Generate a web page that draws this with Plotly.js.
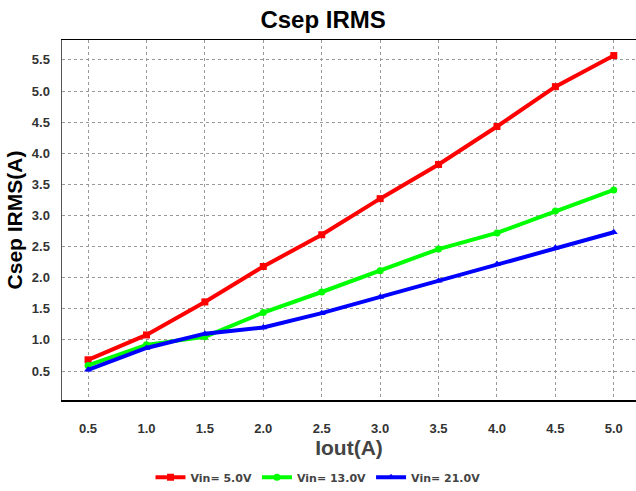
<!DOCTYPE html>
<html>
<head>
<meta charset="utf-8">
<script src="https://cdn.plot.ly/plotly-3.0.1.min.js"></script>
<style>html,body{margin:0;padding:0;background:#fff;}#chart{width:636px;height:491px;}</style>
</head>
<body>
<div id="chart"></div>
<script>
var iout = [0.5, 1.0, 1.5, 2.0, 2.5, 3.0, 3.5, 4.0, 4.5, 5.0];
var vin5 = [0.68, 1.08, 1.61, 2.18, 2.69, 3.27, 3.82, 4.43, 5.07, 5.57];
var vin13 = [0.59, 0.92, 1.05, 1.44, 1.77, 2.11, 2.46, 2.72, 3.07, 3.41];
var vin21 = [0.52, 0.87, 1.10, 1.20, 1.43, 1.69, 1.95, 2.22, 2.48, 2.73];
var seriesNames = ['Vin= 5.0V', 'Vin= 13.0V', 'Vin= 21.0V'];
var xTicks = [0.5, 1.0, 1.5, 2.0, 2.5, 3.0, 3.5, 4.0, 4.5, 5.0];
var yTicks = [0.5, 1.0, 1.5, 2.0, 2.5, 3.0, 3.5, 4.0, 4.5, 5.0, 5.5];

var colors = ['#ff0000', '#00ff00', '#0000ff'];
var symbols = ['square', 'circle', 'triangle-up'];
var ys = [vin5, vin13, vin21];
var traces = ys.map(function (y, i) {
  return {
    x: iout, y: y, name: seriesNames[i], type: 'scatter', mode: 'lines+markers',
    line: {color: colors[i], width: 4},
    marker: {color: colors[i], symbol: symbols[i], size: 7}
  };
});

var fam = 'Liberation Sans, Arial, sans-serif';
var tickFont = {family: fam, size: 13, color: '#333333', weight: 'bold'};
var layout = {
  width: 636, height: 491,
  margin: {l: 62, r: 0, t: 40, b: 91},
  paper_bgcolor: '#ffffff', plot_bgcolor: '#ffffff',
  title: {text: 'Csep IRMS', x: 0.508, xref: 'container', y: 0.96, yref: 'container', yanchor: 'middle',
    font: {family: fam, size: 24, color: '#000000', weight: 'bold'}},
  xaxis: {
    range: [0.277, 5.19], tickvals: xTicks, tickformat: '.1f', ticks: '', ticklabelstandoff: 16,
    tickfont: tickFont,
    showgrid: true, gridcolor: '#999999', griddash: 'dot', gridwidth: 1,
    showline: true, linecolor: '#000000', linewidth: 1.5, mirror: true, zeroline: false,
    title: {text: 'Iout(A)', standoff: 5, font: {family: fam, size: 21, color: '#444444', weight: 'bold'}}
  },
  yaxis: {
    range: [0.034, 5.82], tickvals: yTicks, tickformat: '.1f', ticks: '', ticklabelstandoff: 8,
    tickfont: tickFont,
    showgrid: true, gridcolor: '#999999', griddash: 'dot', gridwidth: 1,
    showline: true, linecolor: '#555555', linewidth: 1.5, mirror: false, zeroline: false,
    title: {text: 'Csep IRMS(A)', standoff: 3, font: {family: fam, size: 21, color: '#000000', weight: 'bold'}}
  },
  showlegend: true,
  legend: {orientation: 'h', xref: 'container', x: 0.5, xanchor: 'center', yref: 'container', y: 0.028, yanchor: 'middle',
    font: {family: 'DejaVu Sans, sans-serif', size: 11, color: '#444444', weight: 'bold'},
    itemwidth: 30, tracegroupgap: 0, bgcolor: 'rgba(0,0,0,0)'}
};
Plotly.newPlot('chart', traces, layout, {displayModeBar: false, staticPlot: true});
</script>
</body>
</html>
